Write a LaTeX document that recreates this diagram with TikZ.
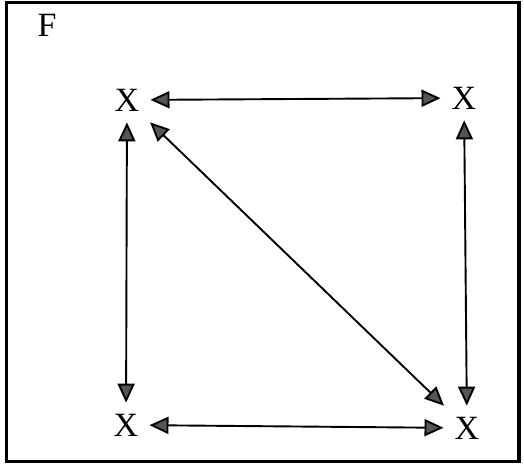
\documentclass[tikz,border=0pt]{standalone}
\usepackage{fontspec}
\setmainfont{Liberation Serif}
\usetikzlibrary{arrows.meta}
\definecolor{cTip}{RGB}{85,85,85}
\tikzset{
    obj/.style={font=\fontsize{34}{34}\selectfont, inner xsep=11pt,
        inner ysep=11pt},
    lbl/.style={font=\fontsize{34}{34}\selectfont, inner sep=0pt},
    darr/.style={{Triangle[length=19pt,width=17pt,fill=cTip]}-{Triangle[length=19pt,width=17pt,fill=cTip]},
        line width=1.9pt},
}

\begin{document}
\begin{tikzpicture}[x=1pt, y=1pt]

% ================================================================
%  FRAME
% ================================================================
\useasboundingbox (0,0) rectangle (524,466);
\draw[line width=3.2pt] (6.5,4.5) rectangle (519,463.5);
\node[lbl] (cat) at (47,441) {F};

% ================================================================
%  OBJECTS
% ================================================================
\node[obj] (xtl) at (127,366) {X};
\node[obj] (xtr) at (464,368) {X};
\node[obj] (xbl) at (126,41) {X};
\node[obj] (xbr) at (467,38) {X};

% ── Morphisms ──
\draw[darr] (xtl) -- (xtr);
\draw[darr] (xbl) -- (xbr);
\draw[darr] (xtl) -- (xbl);
\draw[darr] (xtr) -- (xbr);
\draw[darr] (xtl) -- (xbr);

\end{tikzpicture}
\end{document}
